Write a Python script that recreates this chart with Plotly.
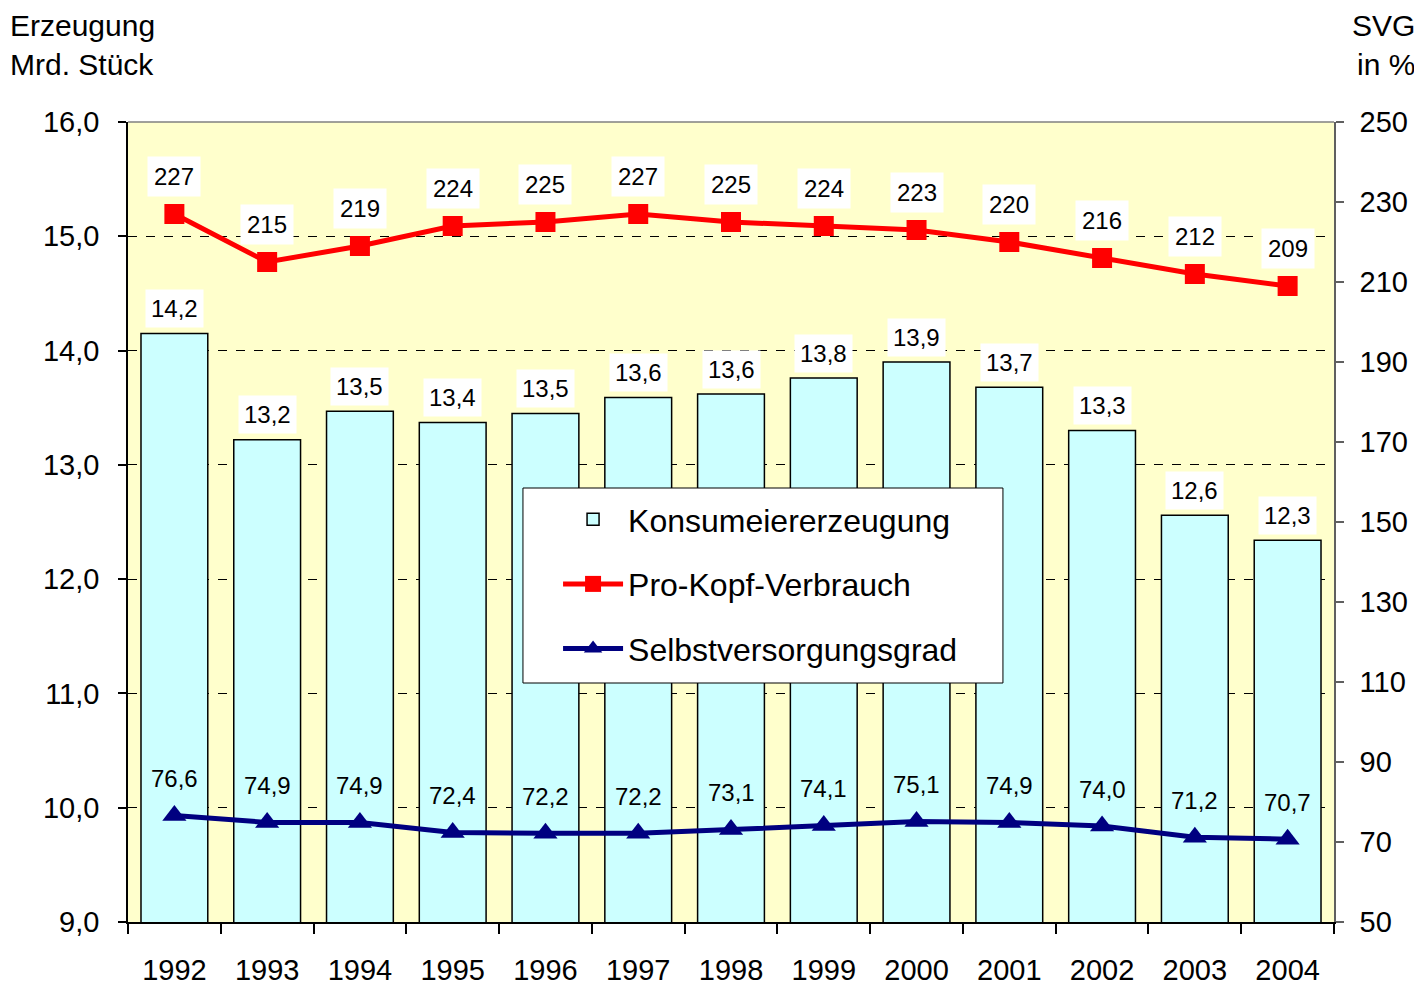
import plotly.graph_objects as go

years = ["1992", "1993", "1994", "1995", "1996", "1997", "1998", "1999", "2000", "2001", "2002", "2003", "2004"]
erzeugung = [14.15, 13.22, 13.47, 13.37, 13.45, 13.59, 13.62, 13.76, 13.90, 13.68, 13.30, 12.56, 12.34]
erzeugung_labels = ["14,2", "13,2", "13,5", "13,4", "13,5", "13,6", "13,6", "13,8", "13,9", "13,7", "13,3", "12,6", "12,3"]
pro_kopf = [227, 215, 219, 224, 225, 227, 225, 224, 223, 220, 216, 212, 209]
svg = [76.6, 74.9, 74.9, 72.4, 72.2, 72.2, 73.1, 74.1, 75.1, 74.9, 74.0, 71.2, 70.7]
svg_labels = ["76,6", "74,9", "74,9", "72,4", "72,2", "72,2", "73,1", "74,1", "75,1", "74,9", "74,0", "71,2", "70,7"]

FONT = "Liberation Sans, Arial, sans-serif"

fig = go.Figure()
fig.add_trace(go.Bar(
    x=years, y=erzeugung, name="Konsumeiererzeugung",
    marker=dict(color="#CCFFFF", line=dict(color="black", width=1.5)),
    legendgroup="a", hoverinfo="skip",
))
fig.add_trace(go.Scatter(
    x=years, y=pro_kopf, name="Pro-Kopf-Verbrauch", yaxis="y2",
    mode="lines+markers",
    line=dict(color="#FF0000", width=5),
    marker=dict(symbol="square", size=20, color="#FF0000"),
    legendgroup="b",
))
fig.add_trace(go.Scatter(
    x=years, y=svg, name="Selbstversorgungsgrad", yaxis="y2",
    mode="lines+markers",
    line=dict(color="#000080", width=5),
    marker=dict(symbol="triangle-up", size=21, color="#000080"),
    legendgroup="c",
))

LBL = dict(family=FONT, size=24, color="black")
annotations = []
for i, (v, t) in enumerate(zip(erzeugung, erzeugung_labels)):
    annotations.append(dict(x=i, y=v, xref="x", yref="y", text=t, showarrow=False,
                            yshift=25, bgcolor="white", borderpad=5, font=LBL))
for i, v in enumerate(pro_kopf):
    annotations.append(dict(x=i, y=v, xref="x", yref="y2", text=str(v), showarrow=False,
                            yshift=38, bgcolor="white", borderpad=6, font=LBL))
for i, (v, t) in enumerate(zip(svg, svg_labels)):
    annotations.append(dict(x=i, y=v, xref="x", yref="y2", text=t, showarrow=False,
                            yshift=37, font=LBL))

annotations.append(dict(xref="paper", yref="paper", x=-0.099, y=1.1425, xanchor="left", yanchor="top",
                        text="Erzeugung<br>Mrd. Stück", align="left", showarrow=False, borderpad=0,
                        font=dict(family=FONT, size=30, color="black")))
annotations.append(dict(xref="paper", yref="paper", x=1.068, y=1.1425, xanchor="right", yanchor="top",
                        text="SVG<br>in %", align="right", showarrow=False, borderpad=0,
                        font=dict(family=FONT, size=30, color="black")))

shapes = [
    dict(type="line", xref="paper", yref="paper", x0=0, x1=1, y0=1, y1=1,
         line=dict(color="#808080", width=1.5)),
    dict(type="rect", xref="paper", yref="paper", x0=0.3275, x1=0.7255, y0=0.29875, y1=0.5425,
         fillcolor="white", line=dict(color="black", width=1), layer="above"),
]

fig.update_layout(
    width=1414, height=985,
    margin=dict(l=120, r=88, t=114, b=71, autoexpand=False),
    paper_bgcolor="white",
    plot_bgcolor="#FFFFCC",
    separators=",.",
    font=dict(family=FONT, size=30, color="black"),
    bargap=0.28,
    showlegend=True,
    legend=dict(x=0.3566, y=0.5375, xanchor="left", yanchor="top",
                bgcolor="rgba(0,0,0,0)", borderwidth=0,
                font=dict(family=FONT, size=32, color="black"),
                traceorder="grouped", tracegroupgap=20, itemwidth=60),
    xaxis=dict(
        type="category", range=[-0.5, 12.5], automargin=False,
        showline=True, linecolor="black", linewidth=1.5,
        ticks="outside", tickson="boundaries", ticklen=10, tickcolor="black", tickwidth=1.5,
        showgrid=False, tickfont=dict(size=29), tickangle=0, ticklabelstandoff=21,
    ),
    yaxis=dict(
        range=[9, 16], dtick=1, tickformat=".1f", automargin=False,
        showline=True, linecolor="black", linewidth=1.5,
        ticks="outside", ticklen=8, tickcolor="black", tickwidth=1.5,
        showgrid=True, gridcolor="black", gridwidth=1, griddash="dash",
        zeroline=False, tickfont=dict(size=29), ticklabelstandoff=13,
    ),
    yaxis2=dict(
        range=[50, 250], tick0=50, dtick=20, overlaying="y", side="right", automargin=False,
        showline=True, linecolor="#606060", linewidth=1.5,
        ticks="outside", ticklen=8, tickcolor="#606060", tickwidth=1.5,
        showgrid=False, zeroline=False, tickfont=dict(size=29), ticklabelstandoff=10,
    ),
    annotations=annotations,
    shapes=shapes,
)

fig.write_html("out.html")
